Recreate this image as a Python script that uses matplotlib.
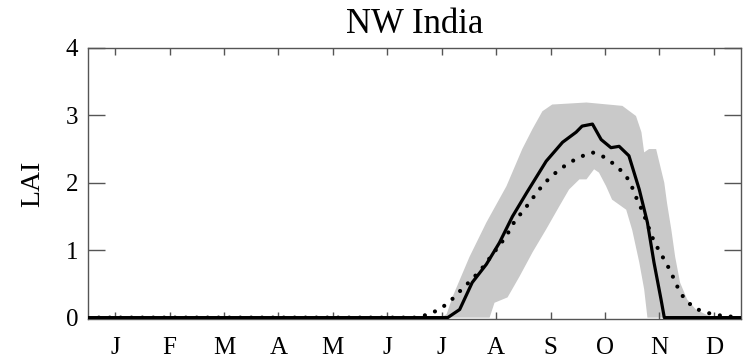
import numpy as np
import matplotlib.pyplot as plt

# x positions are in months (0 = 1 Jan, 12 = 31 Dec)
months = ['J', 'F', 'M', 'A', 'M', 'J', 'J', 'A', 'S', 'O', 'N', 'D']

solid_x = [0.0, 6.61, 6.83, 7.06, 7.32, 7.56, 7.80, 8.06, 8.42, 8.72, 8.97,
           9.08, 9.27, 9.43, 9.61, 9.76, 9.94, 10.13, 10.28, 10.40, 10.53,
           10.59, 12.0]
solid_y = [0.0, 0.0, 0.12, 0.52, 0.79, 1.11, 1.50, 1.85, 2.32, 2.60, 2.75,
           2.84, 2.87, 2.64, 2.52, 2.54, 2.40, 1.90, 1.41, 0.82, 0.27,
           0.0, 0.0]

dot_x = [0.0, 6.0, 6.28, 6.51, 6.70, 6.88, 7.06, 7.23, 7.38, 7.52, 7.69,
         7.80, 7.96, 8.11, 8.26, 8.42, 8.61, 8.81, 9.03, 9.27, 9.49, 9.71,
         9.89, 10.00, 10.09, 10.20, 10.37, 10.50, 10.62, 10.73, 10.83,
         10.95, 11.14, 11.38, 11.63, 12.0]
dot_y = [0.0, 0.0, 0.05, 0.15, 0.28, 0.43, 0.57, 0.72, 0.88, 1.03, 1.21,
         1.38, 1.55, 1.70, 1.87, 2.02, 2.16, 2.28, 2.38, 2.45, 2.38, 2.25,
         2.10, 1.93, 1.75, 1.56, 1.19, 0.98, 0.82, 0.64, 0.46,
         0.29, 0.14, 0.07, 0.03, 0.0]

band_hi_x = [6.48, 6.59, 6.70, 7.01, 7.32, 7.69, 7.98, 8.17, 8.35, 8.53,
             9.16, 9.82, 10.07, 10.17, 10.22, 10.31, 10.44, 10.50, 10.59,
             10.64, 10.72, 10.79, 10.88, 11.01, 11.17, 11.47]
band_hi_y = [0.0, 0.05, 0.31, 0.90, 1.41, 1.95, 2.50, 2.80, 3.06, 3.16,
             3.19, 3.14, 2.99, 2.75, 2.45, 2.50, 2.50, 2.30, 2.00,
             1.70, 1.30, 0.90, 0.52, 0.27, 0.12, 0.0]

band_lo_x = [7.38, 7.47, 7.71, 7.93, 8.17, 8.42, 8.66, 8.84, 9.03, 9.16,
             9.30, 9.39, 9.52, 9.63, 9.89, 10.00, 10.13, 10.22, 10.28]
band_lo_y = [0.0, 0.22, 0.30, 0.61, 0.97, 1.31, 1.65, 1.90, 2.05, 2.05,
             2.20, 2.15, 1.95, 1.75, 1.60, 1.30, 0.82, 0.42, 0.0]

plt.rcParams['font.family'] = ['Liberation Serif', 'DejaVu Serif']

fig = plt.figure(figsize=(7.47, 3.6), dpi=100)
ax = fig.add_axes([0.1178, 0.114, 0.8742, 0.753])

poly_x = np.r_[band_hi_x, band_lo_x[::-1]]
poly_y = np.r_[band_hi_y, band_lo_y[::-1]]
ax.fill(poly_x, poly_y, color='#c9c9c9', lw=0, zorder=1)

ax.plot(dot_x, dot_y, color='black', lw=3.0, linestyle=(0, (0.01, 2.6)),
        dash_capstyle='round', zorder=2)
ax.plot(solid_x, solid_y, color='black', lw=2.3, zorder=3)

ax.set_xlim(0, 12)
ax.set_ylim(-0.02, 4.0)
ax.set_xticks(np.arange(12) + 0.5)
ax.set_xticklabels(months)
ax.set_yticks([0, 1, 2, 3, 4])

ax.tick_params(axis='x', direction='in', length=5, width=1, color='#555555',
               top=True, labelsize=18, pad=13)
ax.tick_params(axis='y', direction='in', length=12, width=1, color='#555555',
               right=True, labelsize=18, pad=7)
for sp in ax.spines.values():
    sp.set_color('#555555')
    sp.set_linewidth(1)

ax.set_ylabel('LAI', fontsize=20, labelpad=15)
ax.set_title('NW India', fontsize=25, pad=11)

fig.savefig('out.png', dpi=100)
